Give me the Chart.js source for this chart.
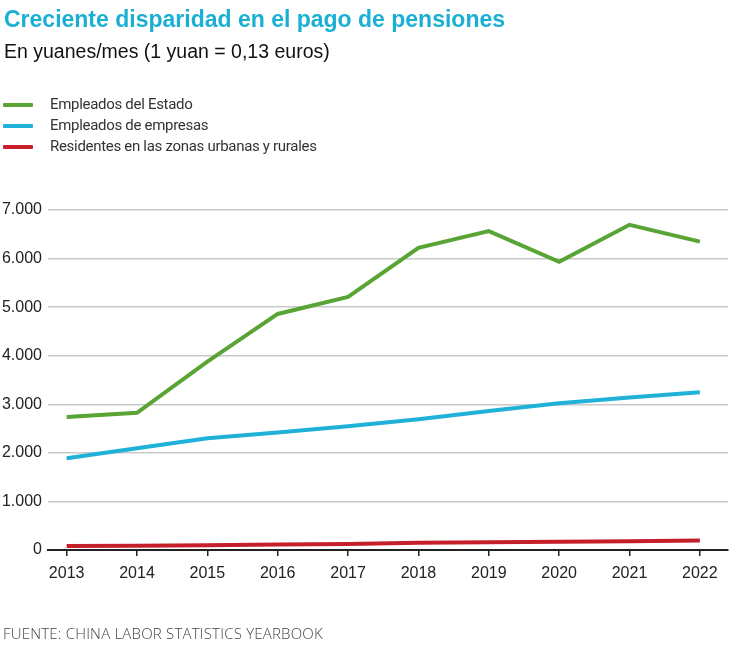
<!DOCTYPE html>
<html>
<head>
<meta charset="utf-8">
<script src="https://cdn.jsdelivr.net/npm/chart.js@4"></script>
<style>
  body { margin: 0; background: #fff; font-family: "Liberation Sans", Arial, sans-serif; }
  #wrap { position: relative; width: 750px; height: 645px; overflow: hidden; }
  #chart { position: absolute; left: 0; top: 0; }
  .title { position: absolute; left: 4px; top: 6px; font-size: 23px; font-weight: bold; color: #1ab0d3; }
  .subtitle { position: absolute; left: 4px; top: 40px; font-size: 19.5px; color: #111; }
  .legend { position: absolute; left: 3px; top: 94px; font-family: Roboto, sans-serif; font-size: 15px; color: #333; letter-spacing: -0.3px; }
  .legend div { height: 21px; line-height: 21px; position: relative; padding-left: 47px; }
  .legend span { position: absolute; left: 0; top: 9px; width: 30px; height: 4px; border-radius: 1px; }
  .footer { position: absolute; left: 3px; top: 623px; font-family: "Open Sans", sans-serif; font-weight: 300; font-size: 15px; letter-spacing: 0.2px; color: #444; }
</style>
</head>
<body>
<div id="wrap">
  <canvas id="chart" width="750" height="645"></canvas>
  <div class="title">Creciente disparidad en el pago de pensiones</div>
  <div class="subtitle">En yuanes/mes (1 yuan = 0,13 euros)</div>
  <div class="legend" id="legend"></div>
  <div class="footer">FUENTE: CHINA LABOR STATISTICS YEARBOOK</div>
</div>
<script>
// data
var years = [2013, 2014, 2015, 2016, 2017, 2018, 2019, 2020, 2021, 2022];
var estado = [2740, 2825, 3880, 4860, 5210, 6220, 6565, 5935, 6695, 6350];
var empresas = [1890, 2095, 2300, 2420, 2550, 2690, 2860, 3020, 3140, 3250];
var residentes = [80, 90, 100, 115, 125, 150, 160, 170, 180, 195];
var yTicks = [0, 1000, 2000, 3000, 4000, 5000, 6000, 7000];

var seriesNames = ['Empleados del Estado', 'Empleados de empresas', 'Residentes en las zonas urbanas y rurales'];
var seriesColors = ['#5aa436', '#1fb1d8', '#c41f2b'];

function toPoints(vals) {
    return years.map(function (y, i) { return { x: y, y: vals[i] }; });
}

// legend as html
var legend = document.getElementById('legend');
seriesNames.forEach(function (name, i) {
    var row = document.createElement('div');
    row.innerHTML = '<span style="background:' + seriesColors[i] + '"></span>' + name;
    legend.appendChild(row);
});

function fmt(v) {
    return v.toString().replace(/\B(?=(\d{3})+(?!\d))/g, '.');
}

var ctx = document.getElementById('chart').getContext('2d');
var chart = new Chart(ctx, {
    type: 'line',
    data: {
        datasets: [estado, empresas, residentes].map(function (vals, i) {
            return {
                label: seriesNames[i],
                data: toPoints(vals),
                borderColor: seriesColors[i],
                borderWidth: 4,
                pointRadius: 0,
                tension: 0,
                fill: false
            };
        })
    },
    options: {
        responsive: false,
        animation: false,
        layout: { padding: { left: 0, right: 22, top: 210, bottom: 0 } },
        plugins: {
            legend: { display: false },
            tooltip: { enabled: false }
        },
        scales: {
            x: {
                type: 'linear',
                min: 2012.735,
                max: 2022.4,
                afterBuildTicks: function (s) { s.ticks = years.map(function (y) { return { value: y }; }); },
                afterFit: function (s) { s.height = 95; },
                grid: { drawOnChartArea: false, drawTicks: true, tickLength: 6, color: '#222', lineWidth: 1.5 },
                border: { color: '#222', width: 2 },
                ticks: {
                    color: '#222',
                    font: { family: 'Liberation Sans', size: 16 },
                    padding: 8,
                    maxRotation: 0,
                    callback: function (v) { return String(v); }
                }
            },
            y: {
                min: 0,
                max: 7000,
                afterBuildTicks: function (s) { s.ticks = yTicks.map(function (v) { return { value: v }; }); },
                afterFit: function (s) { s.width = 48; },
                grid: { drawTicks: false, color: '#c9c9c9', lineWidth: 1.5 },
                border: { display: false },
                ticks: {
                    color: '#222',
                    font: { family: 'Liberation Sans', size: 16 },
                    padding: 6,
                    callback: function (v) { return fmt(v); }
                }
            }
        }
    }
});
</script>
</body>
</html>
